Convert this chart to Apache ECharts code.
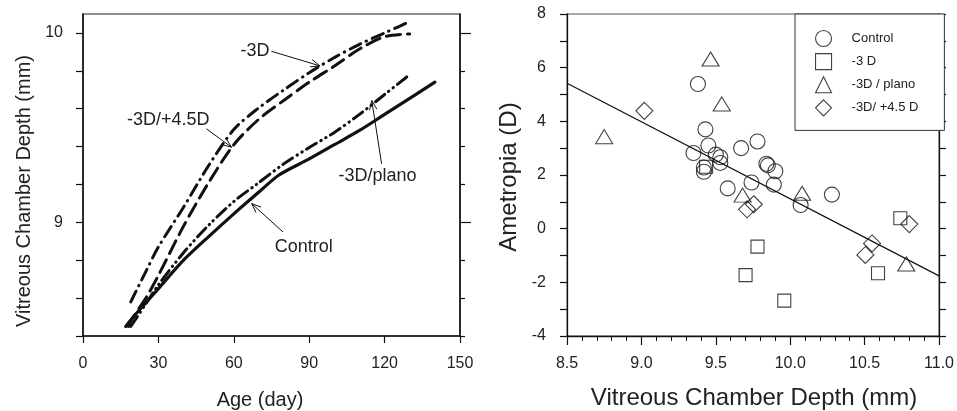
<!DOCTYPE html>
<html><head><meta charset="utf-8">
<script src="https://cdn.jsdelivr.net/npm/echarts@6/dist/echarts.min.js"></script>
<style>html,body{margin:0;padding:0;background:#fff}#c{width:957px;height:411px}</style>
</head><body><div id="c"></div>
<script>
// ---------- Left panel: growth curves (Age in days -> VCD in mm) ----------
const ageControl = [17, 20, 30, 40, 50, 60, 70, 78, 90, 100, 110, 120, 130, 140];
const vcdControl = [8.45, 8.50, 8.65, 8.80, 8.925, 9.045, 9.16, 9.25, 9.335, 9.41, 9.485, 9.57, 9.655, 9.74];

const agePlano = [19, 25, 30, 40, 50, 60, 70, 80, 90, 100, 110, 120, 130];
const vcdPlano = [8.45, 8.57, 8.67, 8.84, 8.985, 9.11, 9.21, 9.31, 9.395, 9.475, 9.57, 9.675, 9.78];

const ageMinus3 = [19, 25, 30, 40, 50, 60, 70, 80, 90, 100, 110, 120, 125, 130];
const vcdMinus3 = [8.58, 8.74, 8.87, 9.08, 9.30, 9.49, 9.605, 9.70, 9.79, 9.87, 9.94, 10.00, 10.03, 10.06];

const agePlus45 = [18, 20, 25, 30, 40, 50, 60, 70, 80, 90, 100, 110, 120, 130];
const vcdPlus45 = [8.45, 8.50, 8.60, 8.72, 8.98, 9.21, 9.41, 9.545, 9.645, 9.74, 9.825, 9.915, 9.98, 9.995];

const leftXTicks = [0, 30, 60, 90, 120, 150];
const leftYTicks = [8.4, 8.6, 8.8, 9.0, 9.2, 9.4, 9.6, 9.8, 10.0];
const leftYLabels = [9, 10];

// annotations: [label, textX, textY, arrowStartX, arrowStartY, tipX, tipY] in data units
const annotations = [
  ['-3D', 68.4, 9.907, 75.0, 9.903, 94.3, 9.826],
  ['-3D/+4.5D', 33.9, 9.538, 49.1, 9.494, 59.1, 9.397],
  ['-3D/plano', 117.2, 9.242, 118.8, 9.309, 114.9, 9.643],
  ['Control', 87.8, 8.868, 79.6, 8.949, 67.1, 9.099]
];

// ---------- Right panel: Ametropia vs VCD ----------
const ctrlX = [9.38, 9.43, 9.45, 9.35, 9.42, 9.42, 9.50, 9.53, 9.53, 9.67, 9.78, 9.58, 9.74, 9.84, 9.85, 9.90, 9.89, 10.07, 10.28];
const ctrlY = [5.39, 3.70, 3.10, 2.82, 2.28, 2.12, 2.76, 2.66, 2.45, 3.00, 3.25, 1.50, 1.72, 2.42, 2.36, 2.14, 1.64, 0.88, 1.27];

const m3X = [9.435, 9.78, 9.70, 9.96, 10.74, 10.59];
const m3Y = [2.31, -0.67, -1.73, -2.68, 0.39, -1.66];

const planoX = [8.75, 9.465, 9.54, 9.68, 10.08, 10.78];
const planoY = [3.43, 6.32, 4.65, 1.25, 1.32, -1.32];

const p45X = [9.02, 9.71, 9.755, 10.80, 10.55, 10.505];
const p45Y = [4.39, 0.72, 0.91, 0.17, -0.55, -0.98];

const fitX = [8.5, 11.0];
const fitY = [5.42, -1.76];

const legendNames = ['Control', '-3 D', '-3D / plano', '-3D/ +4.5 D'];

const zip = (a, b) => a.map((v, i) => [v, b[i]]);
const FONT = 'Liberation Sans, Arial, Helvetica, sans-serif';
const TXT = '#222';

const chart = echarts.init(document.getElementById('c'), null, {renderer: 'canvas'});

const lineBase = {type: 'line', xAxisIndex: 0, yAxisIndex: 0, showSymbol: false, symbol: 'none',
  smooth: 0.3, silent: true};

const tickLbl = {fontSize: 16, color: TXT, fontFamily: FONT};
const openSym = {color: 'rgba(0,0,0,0)', borderColor: '#111', borderWidth: 1.1};

const option = {
  animation: false,
  backgroundColor: '#fff',
  grid: [
    {left: 83, top: 14, width: 377, height: 322, show: true, borderColor: '#222', borderWidth: 1.2, backgroundColor: 'transparent'},
    {left: 567, top: 14, width: 376, height: 322, show: true, borderColor: '#555', borderWidth: 1, backgroundColor: 'transparent'}
  ],
  xAxis: [
    {gridIndex: 0, type: 'value', min: 0, max: 150, interval: 30, position: 'bottom',
      axisLine: {show: true, onZero: false, lineStyle: {color: '#111', width: 1.5}},
      axisTick: {show: true, inside: false, length: 7, lineStyle: {color: '#111', width: 1.2}, customValues: leftXTicks},
      axisLabel: {margin: 20, ...tickLbl, customValues: leftXTicks},
      splitLine: {show: false}},
    {gridIndex: 1, type: 'value', min: 8.5, max: 11.0, interval: 0.5, position: 'bottom',
      axisLine: {show: true, onZero: false, lineStyle: {color: '#111', width: 1.3}},
      axisTick: {show: true, inside: false, length: 9, lineStyle: {color: '#111', width: 1.2}},
      minorTick: {show: true, splitNumber: 5, length: 5, lineStyle: {color: '#111', width: 1}},
      axisLabel: {margin: 20, ...tickLbl, formatter: v => v.toFixed(1)},
      splitLine: {show: false}, minorSplitLine: {show: false}}
  ],
  yAxis: [
    {gridIndex: 0, type: 'value', min: 8.4, max: 10.1, position: 'left',
      axisLine: {show: true, onZero: false, lineStyle: {color: '#111', width: 1.5}},
      axisTick: {show: true, inside: false, length: 7, lineStyle: {color: '#111', width: 1.2}, customValues: leftYTicks},
      axisLabel: {margin: 20, ...tickLbl, customValues: leftYLabels},
      splitLine: {show: false}},
    {gridIndex: 0, type: 'value', min: 8.4, max: 10.1, position: 'right',
      axisLine: {show: true, onZero: false, lineStyle: {color: '#111', width: 1.5}},
      axisTick: {show: true, inside: false, length: 5, lineStyle: {color: '#111', width: 1.2},
        customValues: leftYTicks.filter(v => leftYLabels.indexOf(v) < 0)},
      axisLabel: {show: false}, splitLine: {show: false}},
    {gridIndex: 0, type: 'value', min: 8.4, max: 10.1, position: 'right',
      axisLine: {show: false, onZero: false},
      axisTick: {show: true, inside: false, length: 11, lineStyle: {color: '#111', width: 1.2}, customValues: leftYLabels},
      axisLabel: {show: false}, splitLine: {show: false}},
    {gridIndex: 1, type: 'value', min: -4, max: 8, interval: 2, position: 'left',
      axisLine: {show: true, onZero: false, lineStyle: {color: '#111', width: 1.3}},
      axisTick: {show: true, inside: false, length: 7, lineStyle: {color: '#111', width: 1.2}},
      minorTick: {show: true, splitNumber: 2, length: 7, lineStyle: {color: '#111', width: 1.2}},
      axisLabel: {margin: 21, ...tickLbl},
      splitLine: {show: false}, minorSplitLine: {show: false}},
    {gridIndex: 1, type: 'value', min: -4, max: 8, interval: 2, position: 'right',
      axisLine: {show: true, onZero: false, lineStyle: {color: '#111', width: 1.3}},
      axisTick: {show: true, inside: false, length: 7, lineStyle: {color: '#111', width: 1.2}},
      minorTick: {show: true, splitNumber: 2, length: 7, lineStyle: {color: '#111', width: 1.2}},
      axisLabel: {show: false},
      splitLine: {show: false}, minorSplitLine: {show: false}}
  ],
  legend: {
    orient: 'vertical', left: 795, top: 14,
    padding: [16, 26, 14, 20], itemWidth: 16, itemHeight: 16, itemGap: 6,
    borderColor: '#333', borderWidth: 1, backgroundColor: '#fff',
    itemStyle: {color: 'rgba(0,0,0,0)', borderColor: '#111', borderWidth: 1.1},
    textStyle: {fontSize: 13, color: TXT, fontFamily: FONT, padding: [0, 0, 0, 15]},
    selectedMode: false,
    data: legendNames
  },
  series: [
    {...lineBase, name: 'ctrlCurve', data: zip(ageControl, vcdControl),
      lineStyle: {color: '#111', width: 3.2, type: 'solid', cap: 'round'}},
    {...lineBase, name: 'planoCurve', data: zip(agePlano, vcdPlano),
      lineStyle: {color: '#111', width: 3, type: [12, 5, 0.5, 5, 0.5, 5], cap: 'round'}},
    {...lineBase, name: 'm3Curve', data: zip(ageMinus3, vcdMinus3),
      lineStyle: {color: '#111', width: 3, type: [12, 6, 0.5, 6], cap: 'round'}},
    {...lineBase, name: 'p45Curve', data: zip(agePlus45, vcdPlus45),
      lineStyle: {color: '#111', width: 3, type: [14, 7], cap: 'round'}},

    {type: 'line', xAxisIndex: 1, yAxisIndex: 3, data: zip(fitX, fitY), showSymbol: false, symbol: 'none',
      lineStyle: {color: '#111', width: 1.2}, silent: true, z: 1},

    {type: 'scatter', name: legendNames[0], xAxisIndex: 1, yAxisIndex: 3, data: zip(ctrlX, ctrlY),
      symbol: 'circle', symbolSize: 15, itemStyle: openSym},
    {type: 'scatter', name: legendNames[1], xAxisIndex: 1, yAxisIndex: 3, data: zip(m3X, m3Y),
      symbol: 'rect', symbolSize: 13, itemStyle: openSym},
    {type: 'scatter', name: legendNames[2], xAxisIndex: 1, yAxisIndex: 3, data: zip(planoX, planoY),
      symbol: 'triangle', symbolSize: [17, 14], itemStyle: openSym},
    {type: 'scatter', name: legendNames[3], xAxisIndex: 1, yAxisIndex: 3, data: zip(p45X, p45Y),
      symbol: 'diamond', symbolSize: 17, itemStyle: openSym}
  ]
};

chart.setOption(option);

// titles and annotations as graphic text, anchored via the axes
const g = [];
g.push({type: 'text', x: 24, y: 191, rotation: Math.PI / 2,
  style: {text: 'Vitreous Chamber Depth (mm)', font: '20px ' + FONT, fill: TXT, textAlign: 'center', textVerticalAlign: 'middle'}});
g.push({type: 'text', x: 260, y: 400,
  style: {text: 'Age (day)', font: '20px ' + FONT, fill: TXT, textAlign: 'center', textVerticalAlign: 'middle'}});
g.push({type: 'text', x: 509, y: 177, rotation: Math.PI / 2,
  style: {text: 'Ametropia (D)', font: '24px ' + FONT, fill: TXT, textAlign: 'center', textVerticalAlign: 'middle'}});
g.push({type: 'text', x: 754, y: 398,
  style: {text: 'Vitreous Chamber Depth (mm)', font: '24px ' + FONT, fill: TXT, textAlign: 'center', textVerticalAlign: 'middle'}});

annotations.forEach(a => {
  const t = chart.convertToPixel({xAxisIndex: 0, yAxisIndex: 0}, [a[1], a[2]]);
  const s = chart.convertToPixel({xAxisIndex: 0, yAxisIndex: 0}, [a[3], a[4]]);
  const e = chart.convertToPixel({xAxisIndex: 0, yAxisIndex: 0}, [a[5], a[6]]);
  g.push({type: 'text', x: t[0], y: t[1],
    style: {text: a[0], font: '18px ' + FONT, fill: TXT, textAlign: 'center', textVerticalAlign: 'middle'}});
  g.push({type: 'line', shape: {x1: s[0], y1: s[1], x2: e[0], y2: e[1]}, style: {stroke: '#111', lineWidth: 1}});
  const ang = Math.atan2(e[1] - s[1], e[0] - s[0]);
  const L = 10, w = 0.38;
  [ang + Math.PI - w, ang + Math.PI + w].forEach(b => {
    g.push({type: 'line', shape: {x1: e[0], y1: e[1], x2: e[0] + L * Math.cos(b), y2: e[1] + L * Math.sin(b)},
      style: {stroke: '#111', lineWidth: 1}});
  });
});

chart.setOption({graphic: g});
</script>
</body></html>
